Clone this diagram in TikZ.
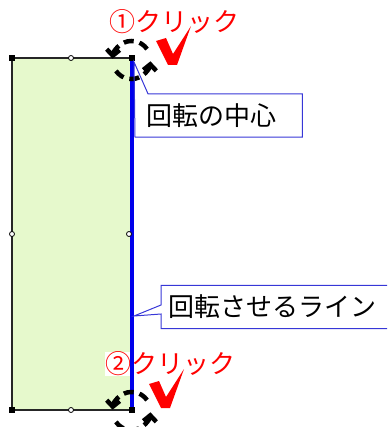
\documentclass[tikz,border=0pt]{standalone}
\usepackage{fontspec}
\newfontfamily\jpfont{Noto Sans CJK JP}
\usetikzlibrary{arrows.meta}

\definecolor{leafgreen}{RGB}{230,249,204}
\definecolor{lineblue}{RGB}{0,0,235}
\definecolor{boxblue}{RGB}{55,55,215}

\tikzset{
    corner/.style={fill=black, inner sep=0pt, minimum size=6pt},
    handle/.style={draw=black, fill=white, circle, inner sep=0pt, minimum size=5pt, line width=0.8pt},
    clicktext/.style={text=red, font=\jpfont\fontsize{26}{26}\selectfont, inner sep=0pt},
    labelbox/.style={font=\jpfont\fontsize{26}{26}\selectfont, anchor=west, align=left, minimum height=43pt},
    calloutline/.style={draw=boxblue, line width=1pt},
    turn/.style={line width=4.5pt, dash pattern=on 10pt off 6pt, -{Straight Barb[length=6pt,width=13pt]}},
    check/.pic={\fill[red] (-1,0) -- (9,-3) -- (16,13) -- (34,-15) -- (20,24) -- (11,24) -- cycle;}
}

\begin{document}
\begin{tikzpicture}[x=1pt, y=-1pt]
    \useasboundingbox (0,0) rectangle (387,427);
    \clip (0,0) rectangle (387,427);

    % the panel
    \draw[fill=leafgreen, draw=black!85, line width=1.2pt]
        (12,58) rectangle (131.5,410);

    \node[clicktext, fill=white] (click2) at (170,364) {②クリック};
    \node[clicktext] (click1) at (174,22) {①クリック};

    % the line to turn about
    \coordinate (top) at (131.5,58);
    \coordinate (bot) at (131.5,410);
    \draw[lineblue, line width=4pt] (top) -- (bot);

    \node[corner] at (12,58) {};
    \node[corner] at (12,410) {};
    \node[corner] at (top) {};
    \node[corner] at (bot) {};
    \node[handle] at (71,58) {};
    \node[handle] at (71,410) {};
    \node[handle] at (12,234) {};
    \node[handle] at (129,234) {};

    % click marks
    \coordinate (ring1) at (131.5,60);
    \coordinate (ring2) at (131.5,411);
    \foreach \c in {ring1, ring2} {
        \draw[turn] (\c) ++(-35:19) arc[start angle=-35, end angle=-176, radius=19];
        \draw[turn] (\c) ++(-215:19) arc[start angle=-215, end angle=-356, radius=19];
    }
    \pic at (157,41) {check};
    \pic at (150,384) {check};

    % callouts
    \coordinate (tip1) at (134,62);
    \coordinate (tip2) at (134,316);

    \node[labelbox, text width=145pt, inner xsep=11pt] (pivotlbl) at (135,115.5) {回転の中心};
    \draw[calloutline]
        (tip1) -- ([xshift=13pt]pivotlbl.north west)
        -- (pivotlbl.north east) -- (pivotlbl.south east)
        -- (pivotlbl.south west) -- cycle;

    \node[labelbox, text width=240pt, inner xsep=7pt] (linelbl) at (161,307) {回転させるライン};
    \draw[calloutline]
        (linelbl.north east) -- (linelbl.north west)
        -- ([yshift=2pt]linelbl.west) -- (tip2)
        -- ([yshift=-7pt]linelbl.west) -- (linelbl.south west)
        -- (linelbl.south east);
\end{tikzpicture}
\end{document}
